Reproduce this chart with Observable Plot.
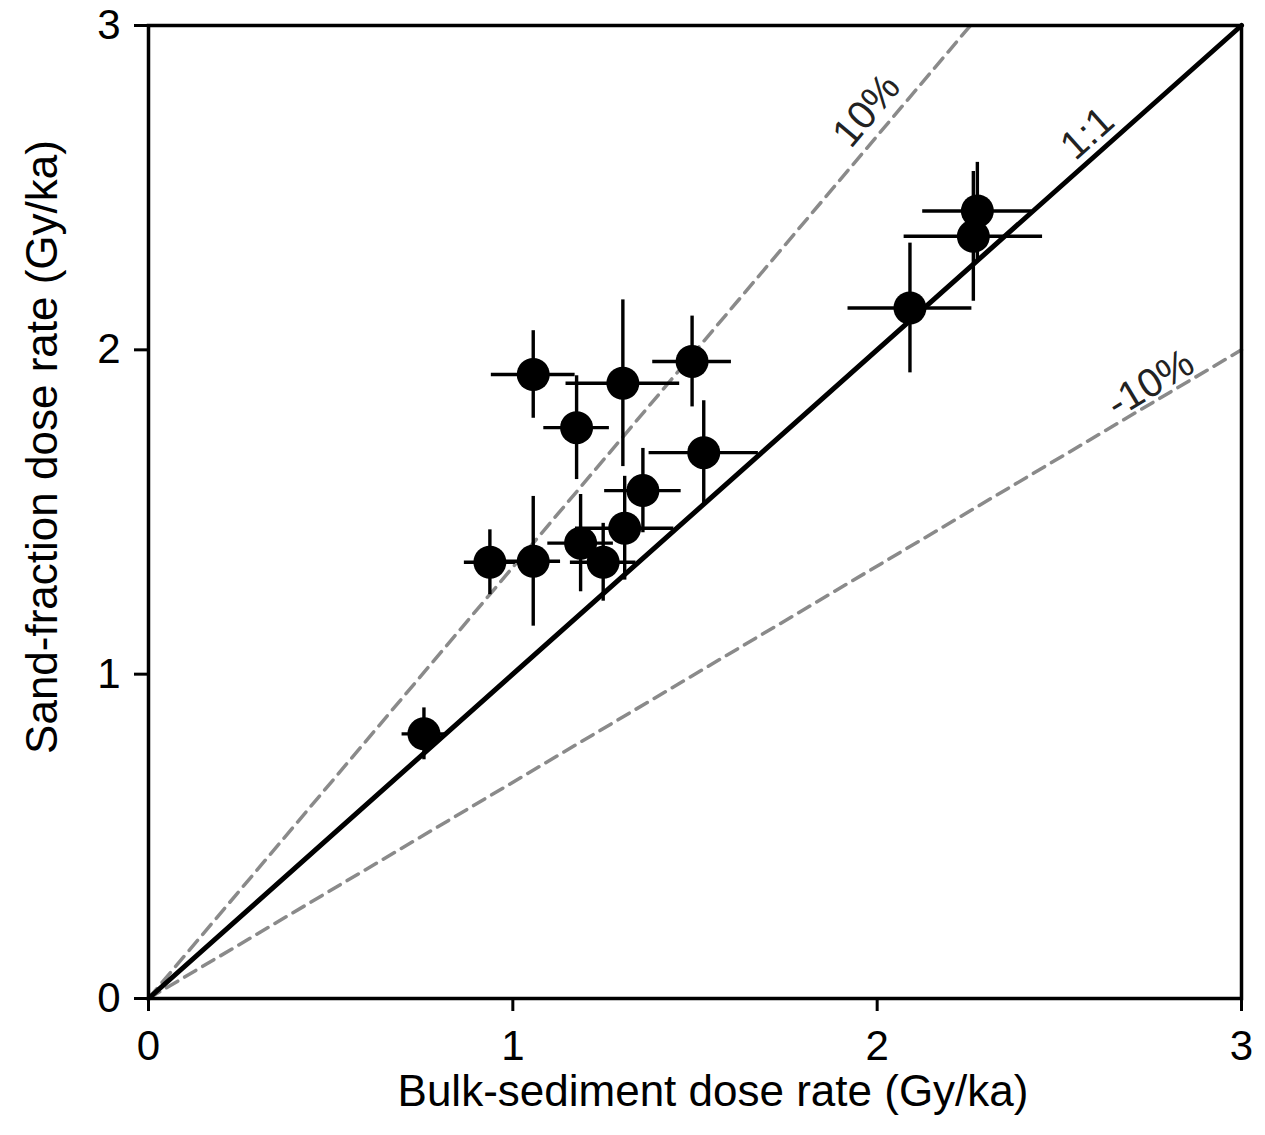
<!DOCTYPE html>
<html>
<head>
<meta charset="utf-8">
<script src="https://cdn.jsdelivr.net/npm/d3@7"></script>
<script src="https://cdn.jsdelivr.net/npm/@observablehq/plot@0.6"></script>
<style>
  html, body { margin: 0; padding: 0; background: #fff; }
  svg { display: block; }
</style>
</head>
<body>
<div id="chart"></div>
<script>
// Data
const bulkDose = [1.056, 1.302, 1.492, 1.175, 1.524, 1.357, 1.307, 1.186, 1.248, 1.056, 0.937, 2.275, 2.264, 2.090, 0.756];
const sandDose = [1.924, 1.897, 1.964, 1.760, 1.683, 1.566, 1.450, 1.404, 1.345, 1.348, 1.345, 2.428, 2.350, 2.129, 0.816];
const bulkErr  = [0.115, 0.156, 0.108, 0.090, 0.150, 0.105, 0.135, 0.090, 0.090, 0.075, 0.070, 0.150, 0.190, 0.170, 0.060];
const sandErr  = [0.135, 0.257, 0.140, 0.160, 0.160, 0.130, 0.160, 0.150, 0.120, 0.200, 0.100, 0.150, 0.200, 0.200, 0.080];

// Reference lines (from origin to end point)
const refNames = ["1:1", "10%", "-10%"];
const refEndX  = [3, 2.256, 3];
const refEndY  = [3, 3, 2];
const refDash  = [false, true, true];

// Reference line labels
const labelText = ["10%", "1:1", "-10%"];
const labelX    = [1.971, 2.577, 2.75];
const labelY    = [2.738, 2.667, 1.896];
const labelRot  = [-50, -41.7, -31];

const xTicks = [0, 1, 2, 3];
const yTicks = [0, 1, 2, 3];
const xTitle = "Bulk-sediment dose rate (Gy/ka)";
const yTitle = "Sand-fraction dose rate (Gy/ka)";

const pts = bulkDose.map((x, i) => ({x, y: sandDose[i], xe: bulkErr[i], ye: sandErr[i]}));
const refSegs = refNames.flatMap((n, i) => [
  {name: n, dashed: refDash[i], x: 0, y: 0},
  {name: n, dashed: refDash[i], x: refEndX[i], y: refEndY[i]}
]);
const labels = labelText.map((t, i) => ({t, x: labelX[i], y: labelY[i], r: labelRot[i]}));

const FONT = "'Liberation Sans', Arial, Helvetica, sans-serif";

const chart = Plot.plot({
  width: 1265,
  height: 1135,
  marginLeft: 148,
  marginRight: 24,
  marginTop: 25,
  marginBottom: 137,
  style: {fontFamily: FONT, background: "#fff", color: "#000"},
  x: {domain: [0, 3]},
  y: {domain: [0, 3]},
  marks: [
    Plot.axisX({ticks: xTicks, tickSize: 13, tickPadding: 19, fontSize: 42, strokeWidth: 3, label: null, tickFormat: d3.format("d")}),
    Plot.axisY({ticks: yTicks, tickSize: 14, tickPadding: 14, fontSize: 42, strokeWidth: 3, label: null, tickFormat: d3.format("d")}),
    // axis titles
    Plot.text([xTitle], {frameAnchor: "bottom", textAnchor: "middle", dx: 18, dy: 107, fontSize: 44, fill: "#000"}),
    Plot.text([yTitle], {frameAnchor: "left", textAnchor: "middle", rotate: -90, dx: -106, dy: -65, fontSize: 44, fill: "#000"}),
    // reference lines
    Plot.line(refSegs.filter(d => d.dashed), {x: "x", y: "y", z: "name", stroke: "#8a8a8a", strokeWidth: 3.5, strokeDasharray: "13,8"}),
    Plot.line(refSegs.filter(d => !d.dashed), {x: "x", y: "y", z: "name", stroke: "#000", strokeWidth: 5}),
    Plot.text(labels, {x: "x", y: "y", text: "t", rotate: "r", fontSize: 40, fill: "#222"}),
    // error bars
    Plot.ruleY(pts, {y: "y", x1: d => d.x - d.xe, x2: d => d.x + d.xe, stroke: "#000", strokeWidth: 3.4}),
    Plot.ruleX(pts, {x: "x", y1: d => d.y - d.ye, y2: d => d.y + d.ye, stroke: "#000", strokeWidth: 3.4}),
    Plot.dot(pts, {x: "x", y: "y", r: 16.5, fill: "#000", stroke: "none"}),
    // frame
    Plot.frame({stroke: "#000", strokeWidth: 3.5})
  ]
});
document.getElementById("chart").appendChild(chart);
</script>
</body>
</html>
